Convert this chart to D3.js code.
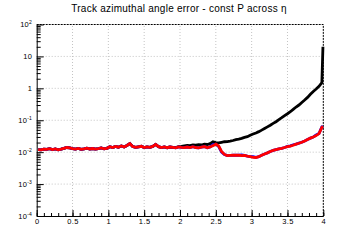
<!DOCTYPE html>
<html>
<head>
<meta charset="utf-8">
<script src="https://cdn.jsdelivr.net/npm/d3@7"></script>
<style>
  body { margin: 0; background: #fff; }
  text { font-family: "Liberation Sans", Arial, sans-serif; }
</style>
</head>
<body>
<svg id="chart"></svg>
<script>
// eta bin centres
var eta = [0.02,0.06,0.10,0.14,0.18,0.22,0.26,0.30,0.34,0.38,0.42,0.46,0.50,0.54,0.58,0.62,0.66,0.70,0.74,0.78,
  0.82,0.86,0.90,0.94,0.98,1.02,1.06,1.10,1.14,1.18,1.22,1.26,1.30,1.34,1.38,1.42,1.46,1.50,1.54,1.58,
  1.62,1.66,1.70,1.74,1.78,1.82,1.86,1.90,1.94,1.98,2.02,2.06,2.10,2.14,2.18,2.22,2.26,2.30,2.34,2.38,
  2.42,2.46,2.50,2.54,2.58,2.62,2.66,2.70,2.74,2.78,2.82,2.86,2.90,2.94,2.98,3.02,3.06,3.10,3.14,3.18,
  3.22,3.26,3.30,3.34,3.38,3.42,3.46,3.50,3.54,3.58,3.62,3.66,3.70,3.74,3.78,3.82,3.86,3.90,3.94,3.98,3.995];

var blackErr = [0.0120,0.0118,0.0125,0.0122,0.0128,0.0121,0.0126,0.0119,0.0124,0.0132,0.0140,0.0136,0.0129,0.0125,0.0131,0.0122,0.0127,0.0133,0.0126,0.0130,
  0.0124,0.0129,0.0135,0.0128,0.0132,0.0148,0.0139,0.0151,0.0143,0.0156,0.0146,0.0162,0.0185,0.0150,0.0141,0.0147,0.0153,0.0139,0.0146,0.0142,
  0.0152,0.0175,0.0149,0.0140,0.0146,0.0138,0.0145,0.0141,0.0140,0.0150,0.0152,0.0158,0.0162,0.0160,0.0168,0.0165,0.0172,0.0168,0.0178,0.0174,
  0.0185,0.0212,0.0200,0.0195,0.0203,0.0212,0.0215,0.0222,0.0232,0.0248,0.0256,0.0270,0.0290,0.0305,0.0340,0.0370,0.0400,0.0440,0.0490,0.0550,
  0.0620,0.0700,0.0800,0.0900,0.1050,0.1200,0.1400,0.1600,0.1850,0.2200,0.2600,0.3000,0.3600,0.4300,0.5200,0.6500,0.8000,0.9500,1.1500,1.5000,20.0];

var blueErr = [0.0120,0.0118,0.0125,0.0122,0.0128,0.0121,0.0126,0.0119,0.0124,0.0132,0.0140,0.0136,0.0129,0.0125,0.0131,0.0122,0.0127,0.0133,0.0126,0.0130,
  0.0124,0.0129,0.0135,0.0128,0.0132,0.0148,0.0139,0.0151,0.0143,0.0156,0.0146,0.0162,0.0185,0.0150,0.0141,0.0147,0.0153,0.0139,0.0146,0.0142,
  0.0152,0.0175,0.0149,0.0140,0.0146,0.0138,0.0145,0.0141,0.0136,0.0147,0.0142,0.0138,0.0145,0.0139,0.0148,0.0140,0.0136,0.0144,0.0150,0.0138,
  0.0146,0.0172,0.0178,0.0150,0.0100,0.0085,0.0078,0.0079,0.0080,0.0081,0.0080,0.0082,0.0079,0.0075,0.0072,0.0072,0.0069,0.0072,0.0080,0.0088,
  0.0095,0.0105,0.0114,0.0120,0.0126,0.0132,0.0140,0.0151,0.0158,0.0171,0.0178,0.0192,0.0205,0.0225,0.0250,0.0275,0.0300,0.0345,0.0385,0.0615,0.0650];

var redErr = [0.0120,0.0118,0.0125,0.0122,0.0128,0.0121,0.0126,0.0119,0.0124,0.0132,0.0140,0.0136,0.0129,0.0125,0.0131,0.0122,0.0127,0.0133,0.0126,0.0130,
  0.0124,0.0129,0.0135,0.0128,0.0132,0.0148,0.0139,0.0151,0.0143,0.0156,0.0146,0.0162,0.0185,0.0150,0.0141,0.0147,0.0153,0.0139,0.0146,0.0142,
  0.0152,0.0175,0.0149,0.0140,0.0146,0.0138,0.0145,0.0141,0.0136,0.0147,0.0142,0.0138,0.0145,0.0139,0.0148,0.0140,0.0136,0.0144,0.0150,0.0138,
  0.0146,0.0160,0.0178,0.0155,0.0105,0.0085,0.0078,0.0079,0.0080,0.0081,0.0080,0.0078,0.0079,0.0075,0.0072,0.0069,0.0068,0.0072,0.0080,0.0088,
  0.0095,0.0105,0.0114,0.0120,0.0126,0.0132,0.0140,0.0148,0.0155,0.0165,0.0178,0.0190,0.0205,0.0225,0.0250,0.0275,0.0300,0.0330,0.0380,0.0600,0.0640];

var xTicks = [0, 0.5, 1, 1.5, 2, 2.5, 3, 3.5, 4];
var xTickLabels = ["0", "0.5", "1", "1.5", "2", "2.5", "3", "3.5", "4"];
var yTicks = [1e-4, 1e-3, 1e-2, 1e-1, 1, 10, 100];
var yTickLabels = [["10", "-4"], ["10", "-3"], ["10", "-2"], ["10", "-1"], ["1", ""], ["10", ""], ["10", "2"]];

var width = 360, height = 240;
var margins = { left: 36.7, right: 36.7, top: 24.5, bottom: 24 };

var svg = d3.select("#chart")
  .attr("width", width)
  .attr("height", height);

var x = d3.scaleLinear().domain([0, 4]).range([margins.left, width - margins.right]);
var y = d3.scaleLog().domain([1e-4, 1e2]).range([height - margins.bottom, margins.top]);

// grid
var minorX = d3.range(0, 40.5).map(d => d / 10);
var minorY = [];
yTicks.slice(0, -1).forEach(function (d) {
  for (var k = 2; k <= 9; k++) minorY.push(d * k);
});

svg.append("g").selectAll("line")
  .data(xTicks.slice(1, -1))
  .enter().append("line")
  .attr("x1", d => x(d)).attr("x2", d => x(d))
  .attr("y1", y(1e-4)).attr("y2", y(1e2))
  .attr("stroke", "#c4c4c4").attr("stroke-dasharray", "1,2");

svg.append("g").selectAll("line")
  .data(yTicks.slice(1, -1))
  .enter().append("line")
  .attr("x1", x(0)).attr("x2", x(4))
  .attr("y1", d => y(d)).attr("y2", d => y(d))
  .attr("stroke", "#c4c4c4").attr("stroke-dasharray", "1,2");

// top and right frame (dashed)
svg.append("path")
  .attr("d", "M" + x(0) + "," + y(1e2) + "H" + x(4) + "V" + y(1e-4))
  .attr("fill", "none").attr("stroke", "#000").attr("stroke-dasharray", "2,1");

// series: black first, then blue, red on top
var line = d3.line()
  .x((d, i) => x(eta[i]))
  .y(d => y(d));

[["#000000", blackErr], ["#0000ff", blueErr], ["#ff0000", redErr]].forEach(function (s) {
  svg.append("path").datum(s[1]).attr("d", line)
    .attr("fill", "none").attr("stroke", s[0]).attr("stroke-width", 2.8);
});

// x axis
svg.append("g")
  .attr("transform", "translate(0," + y(1e-4) + ")")
  .call(d3.axisBottom(x).tickValues(minorX).tickSize(-3).tickFormat("").tickSizeOuter(0))
  .call(g => g.select(".domain").remove());

svg.append("g")
  .attr("transform", "translate(0," + y(1e-4) + ")")
  .call(d3.axisBottom(x).tickValues(xTicks).tickSize(-6).tickSizeOuter(0).tickPadding(3)
    .tickFormat((d, i) => xTickLabels[i]))
  .call(g => g.selectAll("text").attr("font-size", 7.5).attr("letter-spacing", 0.4).attr("fill", "#000")
    .style("font-family", "Liberation Sans, Arial, sans-serif"))
  .call(g => g.selectAll("line").attr("stroke", "#000"))
  .call(g => g.select(".domain").attr("stroke", "#000"));

// y axis
svg.append("g")
  .attr("transform", "translate(" + x(0) + ",0)")
  .call(d3.axisLeft(y).tickValues(minorY).tickSize(-4).tickFormat("").tickSizeOuter(0))
  .call(g => g.select(".domain").remove());

svg.append("g")
  .attr("transform", "translate(" + x(0) + ",0)")
  .call(d3.axisLeft(y).tickValues(yTicks).tickSize(-7).tickSizeOuter(0).tickFormat(""))
  .call(g => g.selectAll("line").attr("stroke", "#000"))
  .call(g => g.select(".domain").attr("stroke", "#000"));

var yLab = svg.append("g").selectAll("text")
  .data(yTicks)
  .enter().append("text")
  .attr("x", x(0) - 4.5)
  .attr("y", d => y(d) + 2.5)
  .attr("text-anchor", "end")
  .attr("font-size", 7.5)
  .attr("letter-spacing", 0.3);
yLab.each(function (d, i) {
  var t = d3.select(this);
  t.append("tspan").text(yTickLabels[i][0]);
  if (yTickLabels[i][1]) {
    t.append("tspan").attr("font-size", 5).attr("dy", -3).text(yTickLabels[i][1]);
  }
});

// title
svg.append("text")
  .attr("x", 179)
  .attr("y", 12)
  .attr("text-anchor", "middle")
  .attr("font-size", 10)
  .attr("letter-spacing", 0.25)
  .text("Track azimuthal angle error - const P across η");
</script>
</body>
</html>
